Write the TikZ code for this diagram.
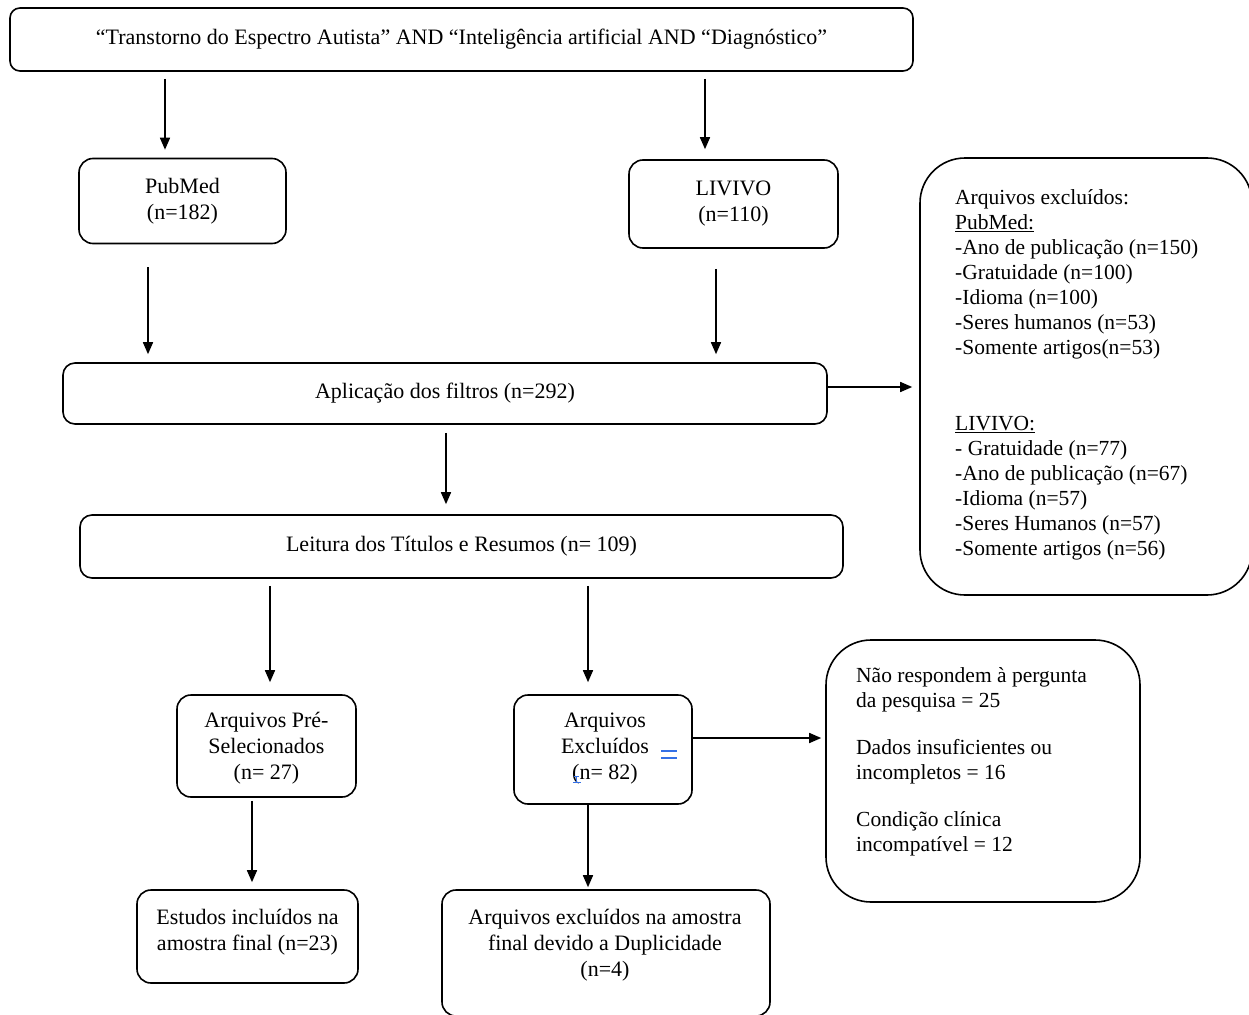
\documentclass[tikz,border=0pt]{standalone}
\usepackage{fontspec}
\setmainfont{Liberation Serif}
\usetikzlibrary{arrows.meta}
\newcommand\fs{\fontsize{22}{26}\selectfont}
\newcommand\fsl{\fontsize{21.5}{25}\selectfont}
\definecolor{editblue}{RGB}{52,112,230}
\begin{document}
\begin{tikzpicture}[x=1pt,y=-1pt,
  box/.style={draw,line width=1.6pt,rounded corners=#1,align=center,inner sep=0pt,font=\fs},
  box/.default=14pt,
  txt/.style={align=center,inner sep=0pt,font=\fs},
  ltxt/.style={align=left,inner sep=0pt,font=\fsl,anchor=west},
  arr/.style={-{Triangle[length=12pt,width=10pt]},line width=1.6pt},
  editmark/.style={editblue,line width=1.8pt}
]
\useasboundingbox (0,0) rectangle (1249,1014);
\clip (0,0) rectangle (1249,1014);

% boxes
\node[box=10pt,minimum width=903pt,minimum height=63pt] (top) at (461.5,39.5)
  {“Transtorno do Espectro Autista” AND “Inteligência artificial AND “Diagnóstico”};
\node[box,minimum width=207pt,minimum height=85pt] (pub) at (182.5,201) {PubMed\\(n=182)};
\node[box,minimum width=209pt,minimum height=88pt] (liv) at (733.5,204) {LIVIVO\\(n=110)};
\node[box=12pt,minimum width=764pt,minimum height=61pt] (apl) at (445,393.5) {Aplicação dos filtros (n=292)};
\node[box=45pt,minimum width=332pt,minimum height=437pt] (exc1) at (1086,376.5) {};
\node[ltxt] (exc1T) at (955,375)
  {Arquivos excluídos:\\
   \underline{PubMed:}\\
   -Ano de publicação (n=150)\\
   -Gratuidade (n=100)\\
   -Idioma (n=100)\\
   -Seres humanos (n=53)\\
   -Somente artigos(n=53)\\[51pt]
   \underline{LIVIVO:}\\
   - Gratuidade (n=77)\\
   -Ano de publicação (n=67)\\
   -Idioma (n=57)\\
   -Seres Humanos (n=57)\\
   -Somente artigos (n=56)};
\node[box=12pt,minimum width=763pt,minimum height=63pt] (lei) at (461.5,546.5) {Leitura dos Títulos e Resumos (n= 109)};
\node[box,minimum width=179pt,minimum height=102pt] (pre) at (266.5,746) {};
\node[txt] (preT) at (266.5,748) {Arquivos Pré-\\Selecionados\\(n= 27)};
\node[box,minimum width=178pt,minimum height=109pt] (exc) at (603,749.5) {};
\node[txt] (excT) at (605,749) {Arquivos\\Excluídos\\(n= 82)};
\node[box=45pt,minimum width=314pt,minimum height=262pt] (mot) at (983,771) {};
\node[ltxt] (motT) at (856,762)
  {Não respondem à pergunta\\da pesquisa = 25\\[22pt]
   Dados insuficientes ou\\incompletos = 16\\[22pt]
   Condição clínica\\incompatível = 12};
\node[box,minimum width=221pt,minimum height=93pt] (est) at (247.5,936.5) {};
\node[txt] (estT) at (247.5,932) {Estudos incluídos na\\amostra final (n=23)};
\node[box,minimum width=328pt,minimum height=126pt] (dup) at (606,953) {};
\node[txt] (dupT) at (605,945.5) {Arquivos excluídos na amostra\\final devido a Duplicidade\\(n=4)};

% x positions of vertical connectors
\coordinate (x1) at (165,0);
\coordinate (x2) at (705,0);
\coordinate (x3) at (148,0);
\coordinate (x4) at (716,0);
\coordinate (x5) at (446,0);
\coordinate (x6) at (270,0);
\coordinate (x7) at (588,0);
\coordinate (x8) at (252,0);
\coordinate (y1) at (0,387);
\coordinate (y2) at (0,738);

% connectors
\draw[arr,shorten <=7pt,shorten >=8pt] (top.south -| x1) -- (pub.north -| x1);
\draw[arr,shorten <=7pt,shorten >=10pt] (top.south -| x2) -- (liv.north -| x2);
\draw[arr,shorten <=23pt,shorten >=8pt] (pub.south -| x3) -- (apl.north -| x3);
\draw[arr,shorten <=20pt,shorten >=8pt] (liv.south -| x4) -- (apl.north -| x4);
\draw[arr,shorten >=7pt] (apl.east |- y1) -- (exc1.west |- y1);
\draw[arr,shorten <=8pt,shorten >=10pt] (apl.south -| x5) -- (lei.north -| x5);
\draw[arr,shorten <=7pt,shorten >=12pt] (lei.south -| x6) -- (pre.north -| x6);
\draw[arr,shorten <=7pt,shorten >=12pt] (lei.south -| x7) -- (exc.north -| x7);
\draw[arr,shorten <=3pt,shorten >=7pt] (pre.south -| x8) -- (est.north -| x8);
\draw[arr,shorten >=2pt] (exc.south -| x7) -- (dup.north -| x7);
\draw[arr,shorten >=4pt] (exc.east |- y2) -- (mot.west |- y2);

% blue editing marks in the "Excluídos" box
\draw[editmark] (661,751) -- (677,751);
\draw[editmark] (661,758) -- (677,758);
\draw[editblue,line width=1.2pt] (574,776.5) -- (579,776.5);
\draw[editblue,line width=1.2pt] (576.5,776.5) -- (576.5,782);
\draw[editblue,line width=1.6pt] (573,782.5) -- (581,782.5);
\end{tikzpicture}
\end{document}
